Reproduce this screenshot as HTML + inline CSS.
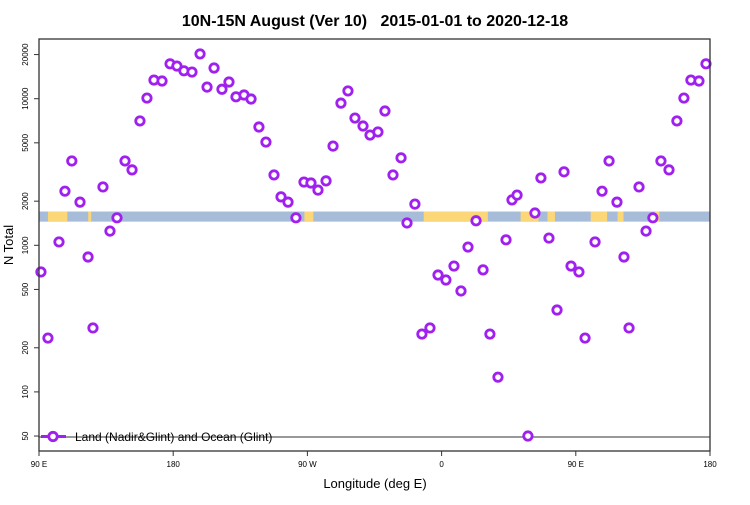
<!DOCTYPE html>
<html><head><meta charset="utf-8"><style>
body{margin:0;background:#fff;font-family:"Liberation Sans",sans-serif}
</style></head><body>
<svg id="chart" width="750" height="500" xmlns="http://www.w3.org/2000/svg" font-family="Liberation Sans, sans-serif">
<rect width="750" height="500" fill="#fff"/>
<text x="375" y="26" text-anchor="middle" font-size="16" font-weight="bold">10N-15N August (Ver 10)&#160;&#160; 2015-01-01 to 2020-12-18</text>
<text transform="translate(13,245) rotate(-90)" text-anchor="middle" font-size="13">N Total</text>
<text x="375" y="488" text-anchor="middle" font-size="13">Longitude (deg E)</text>
<g id="band"></g>
<line x1="39" x2="710" y1="437" y2="437" stroke="#999" stroke-width="2"/>
<g id="axes"></g>
<g id="points"></g>
<g>
<line x1="41" x2="66" y1="436.5" y2="436.5" stroke="#a020f0" stroke-width="3"/>
<circle cx="53" cy="436.5" r="4.2" fill="#fff" stroke="#a020f0" stroke-width="2.8"/>
<text x="75" y="441" font-size="12">Land (Nadir&amp;Glint) and Ocean (Glint)</text>
</g>
<rect x="39" y="39" width="671" height="412" fill="none" stroke="#333" stroke-width="1.3"/>
</svg>
<script>
const lons=[91.3,96,103.4,107.4,112,117.5,122.9,126.2,132.9,137.6,142.3,147.7,152.4,157.7,162.4,167.1,172.5,177.9,182.5,187.2,192.6,198,202.7,207.4,212.7,217.4,222.1,227.5,232.2,237.5,242.2,247.6,252.3,257,262.3,267.7,272.4,277.1,282.5,287.2,292.5,297.2,301.9,307.3,312,317.3,322,327.4,332.8,336.8,342.1,346.8,352.2,357.6,362.9,368.3,373,377.7,383.1,387.8,392.4,397.8,403.2,407.2,410.6,417.9,422.6,426.6,432,437.4,442.1,446.8,452.1,456.2,462.9,467.6,472.3,477.6,482.3,485.7,492.4,497.1,501.7,507.1,512.5,517.8,522.5,527.2,532.6,537.3];
const counts=[658,233,1054,2340,3760,1970,832,273,2500,1250,1540,3760,3270,7050,10100,13400,13200,17300,16700,15500,15200,20200,12000,16200,11600,13000,10300,10600,9950,6410,5060,3020,2140,1970,1540,2700,2660,2380,2750,4750,9330,11300,7380,6510,5650,5930,8240,3020,3950,1420,1910,248,273,627,580,722,488,973,1470,680,248,126,1090,2040,2200,50,1660,2880,1120,362,3170,722,658,233,1054,2340,3760,1970,832,273,2500,1250,1540,3760,3270,7050,10100,13400,13200,17300];
const yTicks=[50,100,200,500,1000,2000,5000,10000,20000];
const xTicks=[90,180,270,360,450,540];
const xTickLabels=["90 E","180","90 W","0","90 E","180"];
const landStart=[96,123,268,348,413,417,431,460,478,503];
const landEnd=[109,125,274,391,418,425,436,471,482,506];
const NS="http://www.w3.org/2000/svg";
const X=l=>39+(l-90)*671/450;
const Y=v=>245.3-(Math.log10(v)-3)*146.6;
function mk(t,a,p){const e=document.createElementNS(NS,t);for(const k in a)e.setAttribute(k,a[k]);p.appendChild(e);return e;}
const band=document.getElementById('band');
const by1=Y(1700),by2=Y(1450);
const br=mk('rect',{x:39,y:by1,width:671,height:by2-by1,fill:'#a7bcd9'},band);


landStart.forEach((s,i)=>{const r=mk('rect',{x:X(s),y:by1,width:X(landEnd[i])-X(s),height:by2-by1,fill:'#fcd777'},band);

});
const ax=document.getElementById('axes');
yTicks.forEach(v=>{const y=Y(v);mk('line',{x1:34,x2:39,y1:y,y2:y,stroke:'#333'},ax);
const t=mk('text',{transform:`translate(28,${y}) rotate(-90)`,'text-anchor':'middle','font-size':'8'},ax);t.textContent=v;

});
xTicks.forEach((l,i)=>{const x=X(l);mk('line',{x1:x,x2:x,y1:451,y2:456,stroke:'#333'},ax);
const t=mk('text',{x:x,y:467,'text-anchor':'middle','font-size':'8'},ax);t.textContent=xTickLabels[i];

});
const pg=document.getElementById('points');
lons.forEach((l,i)=>{const c=mk('circle',{cx:X(l),cy:Y(counts[i]),r:4.2,fill:'#fff',stroke:'#a020f0','stroke-width':2.8},pg);

});
</script>
</body></html>
